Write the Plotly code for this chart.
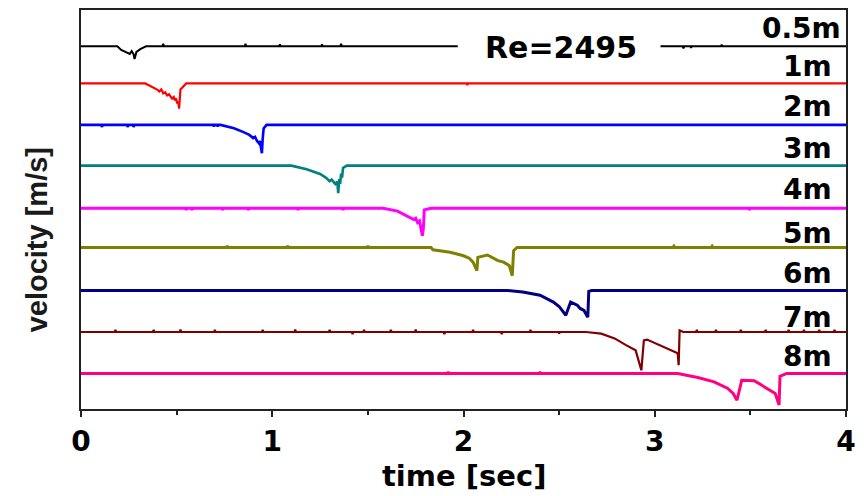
import plotly.graph_objects as go

# ---------------- data ----------------
labels = ["0.5m", "1m", "2m", "3m", "4m", "5m", "6m", "7m", "8m"]
colors = ["#000000", "#ff0000", "#0000ff", "#008080", "#ff00ff",
          "#808000", "#000080", "#800000", "#ff0080"]
offsets = [9.09, 8.16, 7.12, 6.10, 5.03, 4.05, 2.97, 1.93, 0.89]
widths = [2.0, 2.2, 2.6, 2.6, 3.0, 3.0, 3.0, 2.2, 3.0]

t_05 = [0, 0.19, 0.21, 0.225, 0.24, 0.255, 0.265, 0.275, 0.28, 0.29, 0.31, 0.34, 1.97, None, 3.03, 4.0]
v_05 = [0, 0, -0.09, -0.12, -0.14, -0.19, -0.12, -0.2, -0.32, -0.14, -0.07, 0, 0, None, 0, 0]
sp_05 = [(0.43, 0.06), (0.86, 0.06), (1.04, 0.05), (1.26, 0.05), (1.36, 0.06),
         (3.15, -0.05), (3.19, -0.04), (3.35, 0.04)]

t_1 = [0, 0.335, 0.36, 0.387, 0.40, 0.41, 0.42, 0.43, 0.44, 0.45, 0.46, 0.476, 0.485, 0.49, 0.497, 0.503, 0.508, 0.513, 0.516, 0.52, 0.53, 0.55, 4]
v_1 = [0, 0, -0.06, -0.12, -0.16, -0.2, -0.15, -0.25, -0.22, -0.3, -0.27, -0.38, -0.34, -0.42, -0.38, -0.5, -0.45, -0.63, -0.38, -0.15, -0.1, 0, 0]
sp_1 = [(2.02, -0.04)]

t_2 = [0, 0.73, 0.80, 0.85, 0.88, 0.90, 0.91, 0.92, 0.93, 0.935, 0.94, 0.946, 0.95, 0.955, 0.97, 4]
v_2 = [0, 0, -0.085, -0.18, -0.25, -0.33, -0.3, -0.4, -0.46, -0.4, -0.55, -0.71, -0.35, -0.09, 0, 0]
sp_2 = [(0.11, -0.05), (0.245, -0.05), (0.275, -0.05), (0.695, -0.04), (0.715, -0.04)]

t_3 = [0, 1.10, 1.18, 1.25, 1.28, 1.30, 1.31, 1.33, 1.34, 1.345, 1.35, 1.355, 1.36, 1.365, 1.37, 1.39, 4]
v_3 = [0, 0, -0.09, -0.21, -0.3, -0.39, -0.35, -0.46, -0.4, -0.69, -0.34, -0.46, -0.2, -0.3, -0.06, 0, 0]
sp_3 = []

t_4 = [0, 1.58, 1.655, 1.72, 1.74, 1.75, 1.76, 1.77, 1.775, 1.785, 1.79, 1.795, 1.83, 4]
v_4 = [0, 0, -0.07, -0.23, -0.28, -0.25, -0.36, -0.32, -0.45, -0.69, -0.5, -0.04, 0, 0]
sp_4 = [(0.55, -0.04), (0.58, -0.04), (0.74, -0.04), (0.875, -0.04),
        (1.135, -0.04), (1.37, -0.04), (3.495, -0.04)]

t_5 = [0, 1.83, 1.84, 1.93, 2.0, 2.03, 2.05, 2.07, 2.075, 2.125, 2.18, 2.21, 2.24, 2.255, 2.262, 2.28, 4]
v_5 = [0, 0, -0.06, -0.12, -0.21, -0.27, -0.37, -0.58, -0.25, -0.19, -0.33, -0.37, -0.46, -0.71, -0.08, 0, 0]
sp_5 = [(0.765, 0.04), (1.08, 0.04), (1.5, 0.04), (3.1, 0.03), (3.3, 0.03)]

t_6 = [0, 2.23, 2.31, 2.40, 2.47, 2.50, 2.535, 2.56, 2.595, 2.61, 2.63, 2.65, 2.655, 2.67, 4]
v_6 = [0, 0, -0.04, -0.12, -0.29, -0.4, -0.62, -0.29, -0.37, -0.45, -0.5, -0.67, -0.02, 0, 0]
sp_6 = []

t_7 = [0, 2.64, 2.72, 2.79, 2.85, 2.90, 2.93, 2.943, 2.96, 3.03, 3.09, 3.12, 3.125, 3.13, 3.15, 4]
v_7 = [0, 0, -0.04, -0.16, -0.33, -0.46, -0.96, -0.21, -0.19, -0.33, -0.46, -0.53, -0.83, 0.04, 0, 0]
sp_7 = [(0.18, 0.05), (0.38, 0.05), (0.52, 0.06), (0.70, 0.05), (0.95, 0.05),
        (1.12, 0.06), (1.30, 0.05), (1.42, -0.05), (1.48, 0.05), (1.62, 0.05),
        (1.75, 0.06), (1.90, -0.05), (2.05, 0.05), (2.20, -0.05), (2.35, 0.05),
        (2.50, -0.04), (3.22, 0.05), (3.32, 0.05), (3.45, 0.05), (3.58, 0.05),
        (3.70, 0.05), (3.78, 0.05), (3.86, 0.05), (3.94, 0.05)]

t_8 = [0, 3.12, 3.225, 3.31, 3.38, 3.41, 3.43, 3.455, 3.52, 3.59, 3.63, 3.65, 3.655, 3.69, 4]
v_8 = [0, 0, -0.10, -0.21, -0.37, -0.5, -0.67, -0.17, -0.18, -0.37, -0.50, -0.79, -0.07, 0, 0]
sp_8 = [(1.92, 0.04), (2.40, 0.04)]

series_t = [t_05, t_1, t_2, t_3, t_4, t_5, t_6, t_7, t_8]
series_v = [v_05, v_1, v_2, v_3, v_4, v_5, v_6, v_7, v_8]
series_sp = [sp_05, sp_1, sp_2, sp_3, sp_4, sp_5, sp_6, sp_7, sp_8]

label_x = [3.985, 3.935, 3.935, 3.935, 3.935, 3.935, 3.935, 3.935, 3.935]
label_y = [9.53, 8.58, 7.58, 6.52, 5.51, 4.41, 3.40, 2.29, 1.32]


def merge(ts, vs, spikes):
    segs = []
    cur = []
    for a, b in zip(ts, vs):
        if a is None:
            segs.append(cur)
            cur = []
        else:
            cur.append((a, b))
    segs.append(cur)
    out_t, out_v = [], []
    for k, seg in enumerate(segs):
        lo, hi = seg[0][0], seg[-1][0]
        pts = list(seg)
        for (s, h) in spikes:
            if lo < s < hi:
                pts += [(s - 0.004, 0), (s, h), (s + 0.004, 0)]
        pts.sort(key=lambda p: p[0])
        if k:
            out_t.append(None)
            out_v.append(None)
        out_t += [p[0] for p in pts]
        out_v += [p[1] for p in pts]
    return out_t, out_v


fig = go.Figure()
for name, col, off, w, ts, vs, sp in zip(labels, colors, offsets, widths,
                                         series_t, series_v, series_sp):
    tt, vv = merge(ts, vs, sp)
    yy = [None if v is None else off + v for v in vv]
    fig.add_trace(go.Scatter(x=tt, y=yy, mode="lines", name=name,
                             line=dict(color=col, width=w), showlegend=False,
                             connectgaps=False))

for name, lx, ly in zip(labels, label_x, label_y):
    fig.add_annotation(x=lx, y=ly, xref="x", yref="y", text=name, showarrow=False,
                       xanchor="right", yanchor="middle",
                       font=dict(family="DejaVu Sans", size=28, color="#000000", weight="bold"))

fig.add_annotation(x=2.51, y=9.06, xref="x", yref="y", text="Re=2495", showarrow=False,
                   xanchor="center", yanchor="middle",
                   font=dict(family="DejaVu Sans", size=30, color="#000000", weight="bold"))

fig.add_annotation(x=0.5, y=-0.167, xref="paper", yref="paper", text="time [sec]",
                   showarrow=False, xanchor="center", yanchor="middle",
                   font=dict(family="DejaVu Sans", size=29, color="#000000", weight="bold"))

fig.add_annotation(x=-0.0576, y=0.425, xref="paper", yref="paper", text="velocity [m/s]",
                   showarrow=False, xanchor="center", yanchor="middle", textangle=-90,
                   font=dict(family="Liberation Sans", size=29, color="#1a1a1a", weight="bold"))

fig.update_layout(
    width=864, height=496,
    margin=dict(l=81, r=18, t=8, b=87),
    plot_bgcolor="white", paper_bgcolor="white",
    xaxis=dict(range=[0, 4], tickvals=[0, 1, 2, 3, 4], ticktext=["0", "1", "2", "3", "4"],
               ticks="outside", ticklen=6, tickwidth=2, tickcolor="#222",
               showline=True, linecolor="#222", linewidth=2, mirror=True,
               showgrid=False, zeroline=False,
               minor=dict(tickvals=[0.5, 1.5, 2.5, 3.5], ticks="outside", ticklen=4,
                          tickwidth=2, tickcolor="#222", showgrid=False),
               tickfont=dict(family="DejaVu Sans", size=28, color="#000000", weight="bold")),
    yaxis=dict(range=[0, 10], showticklabels=False, ticks="",
               showline=True, linecolor="#222", linewidth=2, mirror=True,
               showgrid=False, zeroline=False),
)

fig.write_html("out.html")
